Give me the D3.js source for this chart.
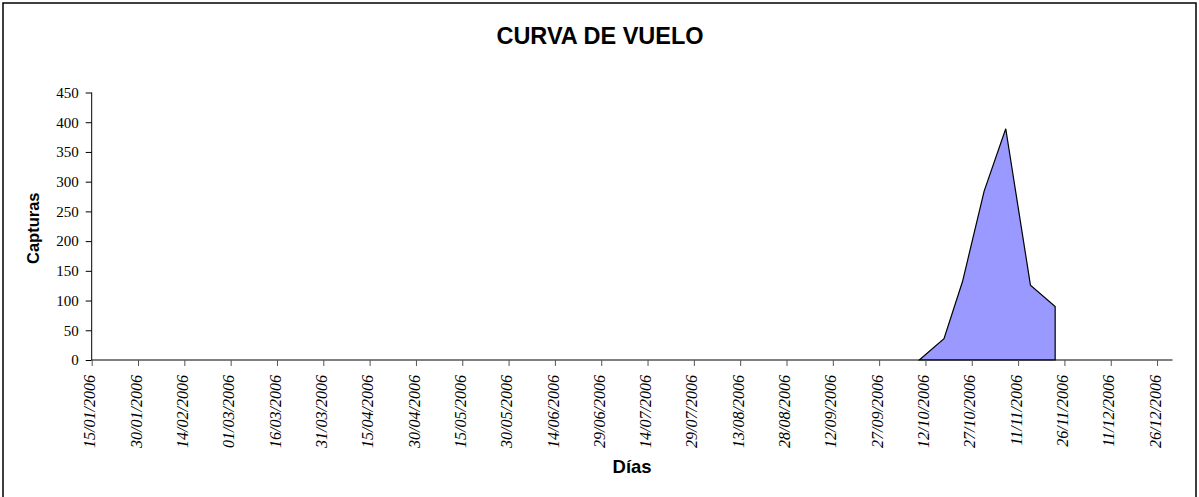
<!DOCTYPE html>
<html>
<head>
<meta charset="utf-8">
<script src="https://cdn.jsdelivr.net/npm/d3@7"></script>
<style>
  html, body { margin: 0; padding: 0; background: #fff; }
  svg { display: block; }
</style>
</head>
<body>
<svg id="chart" width="1199" height="497"></svg>
<script>
// ---- data ----
const dates = ["10/10/2006", "18/10/2006", "24/10/2006", "31/10/2006", "07/11/2006", "15/11/2006", "23/11/2006"];
const capturas = [0, 36, 132, 284, 389, 126, 90];
const tickLabels = ["15/01/2006","30/01/2006","14/02/2006","01/03/2006","16/03/2006","31/03/2006",
  "15/04/2006","30/04/2006","15/05/2006","30/05/2006","14/06/2006","29/06/2006","14/07/2006",
  "29/07/2006","13/08/2006","28/08/2006","12/09/2006","27/09/2006","12/10/2006","27/10/2006",
  "11/11/2006","26/11/2006","11/12/2006","26/12/2006"];
const yTicks = [0, 50, 100, 150, 200, 250, 300, 350, 400, 450];
const xDomain = ["15/01/2006", "31/12/2006"];
const title = "CURVA DE VUELO";
const xTitle = "Días";
const yTitle = "Capturas";

(function () {
const parse = d3.timeParse("%d/%m/%Y");
const fmt = d3.timeFormat("%d/%m/%Y");
const data = dates.map((d, i) => ({ date: parse(d), v: capturas[i] }));

const svg = d3.select("#chart");
const pL = 91.7, pR = 1172.5, pT = 92.5, pB = 360;

// outer border
svg.append("rect").attr("x", 3).attr("y", 3).attr("width", 1193).attr("height", 510)
  .attr("fill", "#fff").attr("stroke", "#000").attr("stroke-width", 1.5);

const x = d3.scaleTime().domain(xDomain.map(parse)).range([pL, pR]);
const y = d3.scaleLinear().domain([0, 450]).range([pB, pT]);

// area
const area = d3.area().x(d => x(d.date)).y0(y(0)).y1(d => y(d.v));
svg.append("path").datum(data).attr("d", area)
  .attr("fill", "#9999FF").attr("stroke", "#000").attr("stroke-width", 1.2)
  .attr("stroke-linejoin", "miter");

// y axis
const yAxis = svg.append("g").attr("transform", `translate(${pL},0)`)
  .call(d3.axisLeft(y).tickValues(yTicks).tickSize(6).tickPadding(7).tickFormat(d3.format("d")));
yAxis.select(".domain").attr("stroke", "#000").attr("d", `M0,${pT}V${pB}`);
yAxis.selectAll(".tick line").attr("stroke", "#000");
yAxis.selectAll(".tick text").attr("font-family", "'Liberation Serif', 'Times New Roman', serif")
  .attr("font-size", "15px").attr("fill", "#000");

// x axis
const xAxis = svg.append("g").attr("transform", `translate(0,${pB})`)
  .call(d3.axisBottom(x).tickValues(tickLabels.map(parse)).tickSize(6).tickFormat(fmt));
xAxis.select(".domain").attr("stroke", "#000").attr("d", `M${pL},0H${pR}`);
xAxis.selectAll(".tick line").attr("stroke", "#555");
xAxis.selectAll(".tick text")
  .attr("font-family", "'Liberation Serif', 'Times New Roman', serif")
  .attr("font-style", "italic").attr("font-size", "16px").attr("fill", "#000")
  .attr("text-anchor", "end")
  .attr("transform", "rotate(-90)")
  .attr("x", -15).attr("y", -2).attr("dy", "0.32em");

// titles
svg.append("text").attr("x", 600).attr("y", 43.5).attr("text-anchor", "middle")
  .attr("font-family", "'Liberation Sans', Arial, sans-serif").attr("font-weight", "bold")
  .attr("font-size", "23.5px").text(title);
svg.append("text").attr("x", (pL + pR) / 2).attr("y", 473).attr("text-anchor", "middle")
  .attr("font-family", "'Liberation Sans', Arial, sans-serif").attr("font-weight", "bold")
  .attr("font-size", "18.5px").text(xTitle);
svg.append("text").attr("transform", `translate(38.5,${(pT + pB) / 2 + 2}) rotate(-90)`)
  .attr("text-anchor", "middle")
  .attr("font-family", "'Liberation Sans', Arial, sans-serif").attr("font-weight", "bold")
  .attr("font-size", "16.5px").text(yTitle);
})();
</script>
</body>
</html>
